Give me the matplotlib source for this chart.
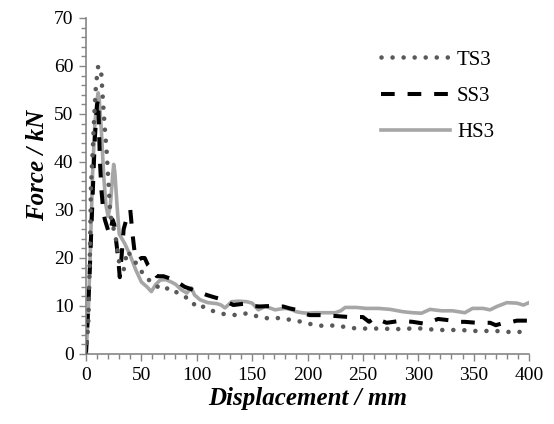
import matplotlib
matplotlib.use("Agg")
import matplotlib.pyplot as plt
from matplotlib.ticker import MultipleLocator

# ---- data ----
ts3_x = [0, 2, 3.5, 4.5, 6, 7.5, 9, 11, 13.5, 15.5, 17, 18.7, 20.5, 22, 24, 27, 30, 32, 34, 36,
         38, 41, 44, 48, 52, 56, 61, 67, 72, 77, 85, 94, 100, 107, 116, 125, 136, 146, 155, 165,
         175, 185, 195, 205, 216, 226, 236, 246, 256, 266, 277, 287, 298, 308, 318, 329, 339, 349,
         359, 370, 380, 391, 396]
ts3_y = [0, 6, 20, 35, 42, 50, 56, 60, 59.5, 52, 47, 42, 35, 29, 27, 24, 19, 18, 17.5, 20,
         21.5, 20, 19.3, 18, 16.5, 15.5, 15, 13.4, 13.6, 13.8, 12.2, 11.5, 9.6, 9.9, 8.8, 8.3, 8.1, 8.5, 7.8, 7.4,
         7.5, 7.1, 6.7, 6.1, 5.8, 6.0, 5.5, 5.3, 5.3, 5.3, 5.2, 5.2, 5.4, 5.2, 5.0, 5.0, 5.0, 4.8,
         4.8, 4.8, 4.6, 4.6, 4.6]

ss3_x = [0, 3, 6, 8, 10, 11, 12.6, 14, 15.5, 17, 19, 21, 22.5, 24, 25.5, 27, 29, 30.5, 32, 34,
         37, 40, 42, 44, 47, 50, 53, 56, 60, 64, 70, 75, 80, 89, 95, 101, 109, 116, 124, 133,
         140, 145, 150, 157, 166, 172, 178, 184, 190, 196, 202, 214, 226, 238, 250, 255.6, 260, 271.5, 283.5, 295,
         306, 312, 318, 329, 336, 342, 353, 365, 370, 376, 383, 389, 400]
ss3_y = [0, 15, 33, 45, 52, 53, 40, 34, 30, 28, 26.5, 25, 26, 28, 27, 24, 20, 16, 20, 26,
         28.5, 30, 25, 21, 19.5, 20, 20, 18.5, 17.5, 16.2, 16.2, 15.8, 15.4, 14, 13.5, 13, 12.3, 11.8, 11.3, 10.2,
         10.4, 10.5, 10, 9.9, 10, 9.8, 9.9, 9.5, 9.2, 8.5, 8.1, 8.1, 7.9, 7.7, 7.7, 6.7, 7.5, 6.5, 6.9, 6.7,
         6.3, 6.8, 7.3, 7.0, 6.7, 6.7, 6.5, 6.5, 6.0, 6.4, 6.6, 6.95, 6.95]

hs3_x = [0, 2, 4, 6, 8, 10, 11, 12, 14, 16, 18, 20, 22, 24, 25, 26, 28, 30, 35, 40,
         45, 50, 55, 59, 63, 67, 72, 77, 81, 86, 91, 95, 98, 103, 110, 118, 122, 125.5, 131.5, 138,
         145, 150, 155.6, 161.6, 166, 170.6, 176, 181, 186, 190, 195, 200, 206, 213, 219, 225, 230, 234, 244, 253,
         264, 274.5, 286.5, 295, 303, 310.6, 321, 331, 342, 349, 358.5, 364.8, 371, 380, 389, 395, 400]
hs3_y = [0, 8, 22, 38, 48, 53, 54.4, 53, 46, 37, 31, 28.7, 31, 37, 39.5, 38, 31, 25, 23, 20.5,
         17.5, 15, 14, 13, 14.5, 15.4, 15.5, 15, 14.5, 13.4, 12.7, 13.8, 12.3, 11.3, 10.7, 10.5, 10.2, 9.6, 10.9, 11,
         10.9, 10.6, 9.2, 9.9, 9.6, 9.2, 9.4, 9.5, 9.2, 8.8, 8.6, 8.5, 8.6, 8.6, 8.6, 8.6, 9.0, 9.7, 9.7, 9.5,
         9.5, 9.3, 8.8, 8.6, 8.5, 9.3, 9.0, 9.0, 8.6, 9.5, 9.5, 9.2, 9.9, 10.7, 10.6, 10.2, 10.7]

series_labels = ["TS3", "SS3", "HS3"]
x_label = "Displacement / mm"
y_label = "Force / kN"

plt.rcParams['font.family'] = ['Liberation Serif', 'DejaVu Serif']

fig = plt.figure(figsize=(5.54, 4.24), dpi=100)
ax = fig.add_axes([86/554, 1-354/424, (529-86)/554, (354-18)/424])

ax.plot(ts3_x, ts3_y, color='#595959', lw=3.3, linestyle=(0, (0.01, 2.4)),
        dash_capstyle='round', label=series_labels[0], zorder=3)
ax.plot(ss3_x, ss3_y, color='black', lw=2.9, linestyle=(0, (3.4, 3.2)),
        dash_capstyle='butt', label=series_labels[1], zorder=2)
ax.plot(hs3_x, hs3_y, color='#a6a6a6', lw=2.6, linestyle='-',
        label=series_labels[2], zorder=1)

ax.set_xlim(0, 400)
ax.set_ylim(0, 70)
ax.xaxis.set_major_locator(MultipleLocator(50))
ax.xaxis.set_minor_locator(MultipleLocator(10))
ax.yaxis.set_major_locator(MultipleLocator(10))
ax.yaxis.set_minor_locator(MultipleLocator(2))

for s in ['top', 'right']:
    ax.spines[s].set_visible(False)
for s in ['left', 'bottom']:
    ax.spines[s].set_color('#868686')
    ax.spines[s].set_linewidth(1.2)

ax.tick_params(which='major', direction='out', length=5, width=1, color='#868686',
               labelsize=14, labelcolor='black', pad=4)
ax.tick_params(which='minor', direction='out', length=3.5, width=1, color='#868686')

ax.set_xlabel(x_label, fontsize=18, fontweight='bold', fontstyle='italic')
ax.set_ylabel(y_label, fontsize=18, fontweight='bold', fontstyle='italic')
ax.xaxis.set_label_coords(0.5, (354-398)/336)
ax.xaxis.label.set_va('center')
ax.yaxis.set_label_coords((38-86)/443, (354-165)/336)
ax.yaxis.label.set_va('center')

leg = ax.legend(loc='center left', bbox_to_anchor=(381/554, 1-96/424),
                bbox_transform=fig.transFigure, frameon=False, fontsize=15,
                handlelength=3.3, handletextpad=0.35, labelspacing=0.8,
                borderpad=0, borderaxespad=0)

fig.savefig('out.png', dpi=100)
